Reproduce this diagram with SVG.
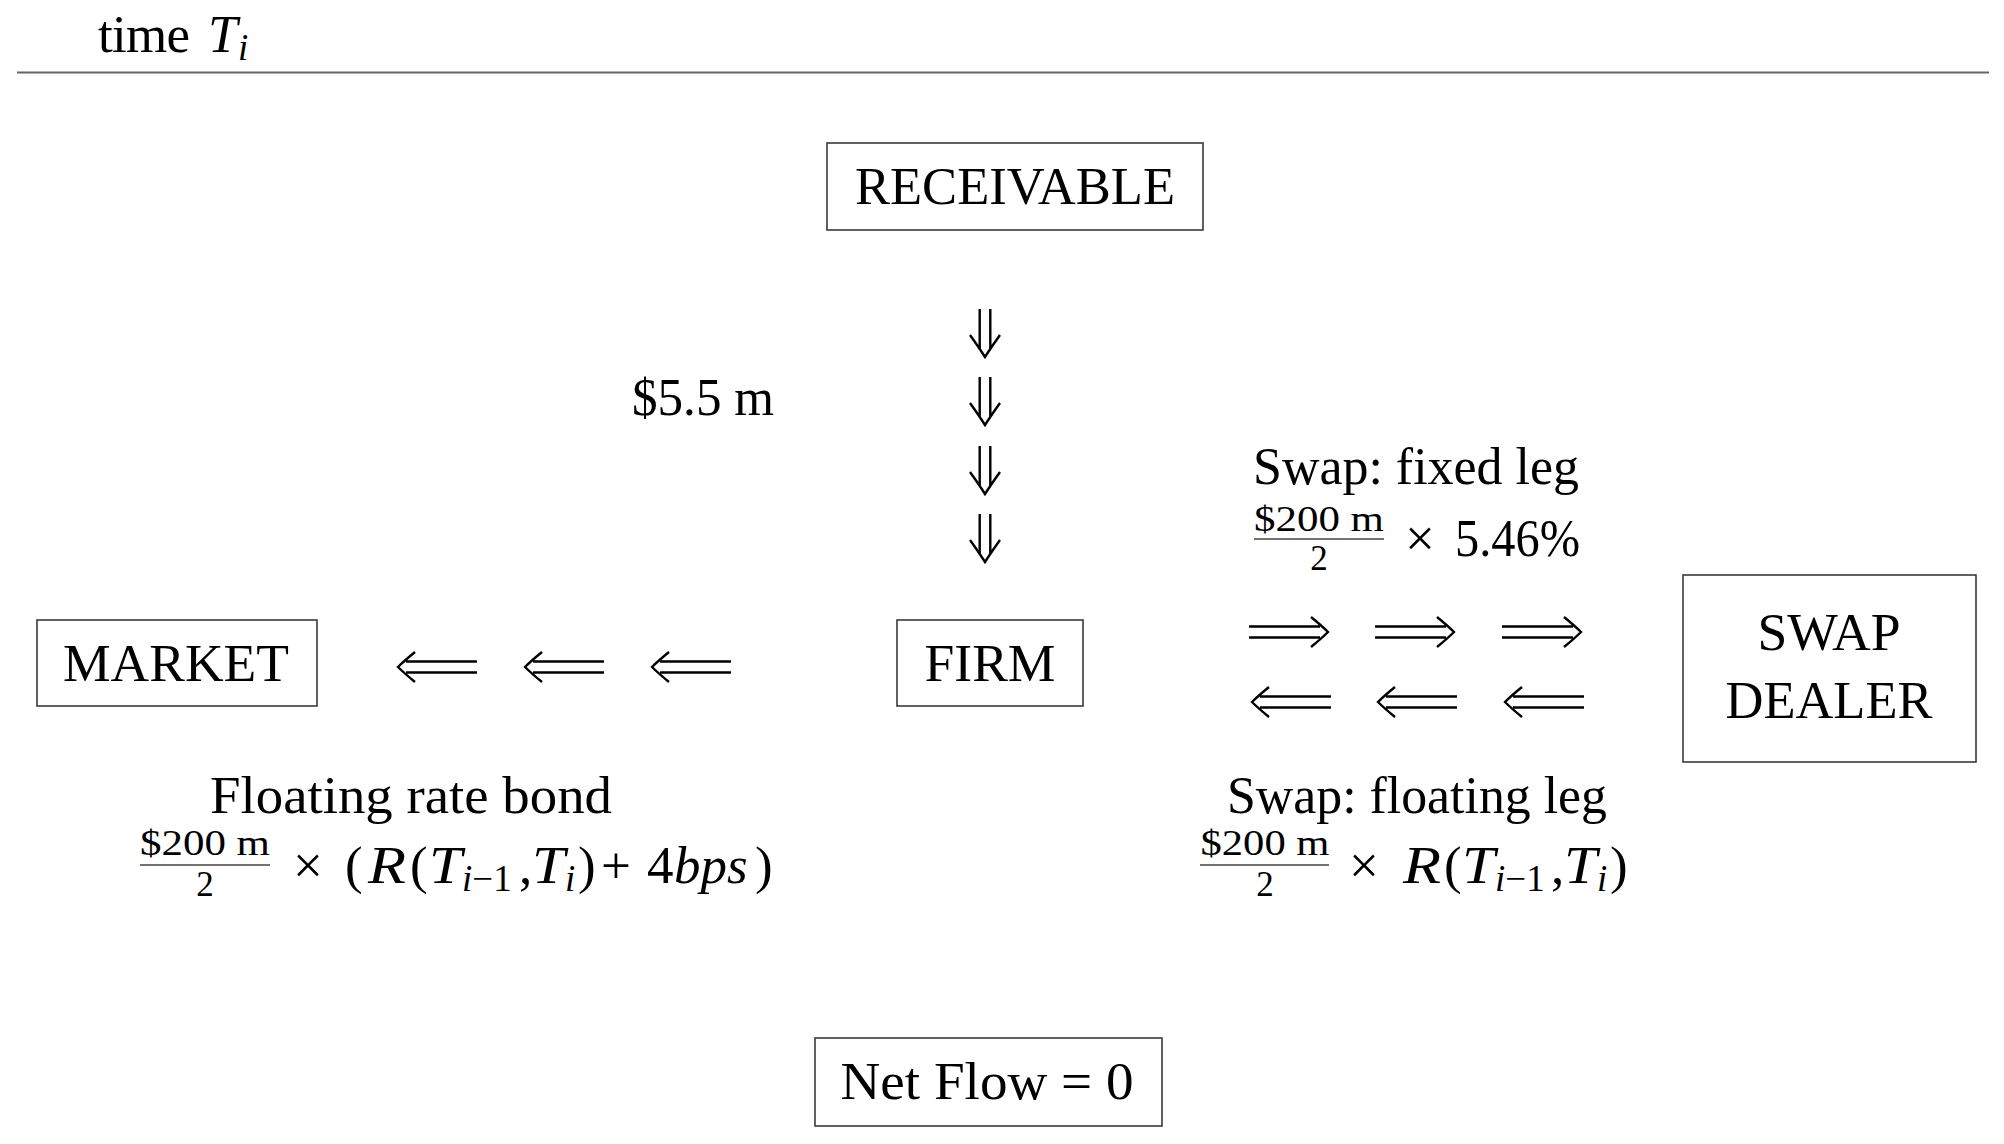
<svg xmlns="http://www.w3.org/2000/svg" xmlns:xlink="http://www.w3.org/1999/xlink" width="2004" height="1144" viewBox="0 0 2004 1144">
<style>
  text { font-family: "Liberation Serif", "Times New Roman", serif; fill: #000; }
  .t { font-size: 53px; }
  .sm { font-size: 35px; }
  .sub { font-size: 37px; }
  .i { font-style: italic; }
  .box { fill: #fff; stroke: #3a3a3a; stroke-width: 1.6; }
  .bar { stroke: #444; stroke-width: 1.5; }
  .arr { fill: none; stroke: #000; stroke-width: 2.4; stroke-linecap: butt; }
</style>
<defs>
  <!-- long double arrow pointing left, tip at 0,0 -->
  <path id="arrL" class="arr" d="M17,-15 Q6,-6 0,0 Q6,6 17,15 M8,-5.5 H79 M8,5.5 H79"/>
  <!-- double arrow pointing down, tip at 0,0 -->
  <path id="arrD" class="arr" d="M-15,-22 Q-5,-8 0,0 Q5,-8 15,-22 M-5.3,-48 V-8 M5.3,-48 V-8"/>
</defs>
<rect width="2004" height="1144" fill="#fff"/>

<g id="header">
  <text class="t" y="52"><tspan x="98" textLength="92">time</tspan><tspan x="208" class="i">T</tspan><tspan x="238" y="60" class="sub i">i</tspan></text>
  <line x1="17" y1="72.5" x2="1989" y2="72.5" stroke="#666" stroke-width="2"/>
</g>

<g id="receivable">
  <rect class="box" x="827" y="143" width="376" height="87"/>
  <text class="t" x="1015" y="204" text-anchor="middle" textLength="320" lengthAdjust="spacingAndGlyphs">RECEIVABLE</text>
</g>

<g id="market">
  <rect class="box" x="37" y="620" width="280" height="86"/>
  <text class="t" x="176" y="681" text-anchor="middle" textLength="226" lengthAdjust="spacingAndGlyphs">MARKET</text>
</g>

<g id="firm">
  <rect class="box" x="897" y="620" width="186" height="86"/>
  <text class="t" x="990" y="681" text-anchor="middle" textLength="131" lengthAdjust="spacingAndGlyphs">FIRM</text>
</g>

<g id="swap-dealer">
  <rect class="box" x="1683" y="575" width="293" height="187"/>
  <text class="t" x="1829" y="650" text-anchor="middle" textLength="143" lengthAdjust="spacingAndGlyphs">SWAP</text>
  <text class="t" x="1829" y="718" text-anchor="middle" textLength="207" lengthAdjust="spacingAndGlyphs">DEALER</text>
</g>

<g id="net-flow">
  <rect class="box" x="815" y="1038" width="347" height="88"/>
  <text class="t" x="987" y="1099" text-anchor="middle" textLength="293" lengthAdjust="spacingAndGlyphs">Net Flow = 0</text>
</g>

<g id="connectors">
  <use xlink:href="#arrD" href="#arrD" x="985" y="357"/>
  <use xlink:href="#arrD" href="#arrD" x="985" y="425"/>
  <use xlink:href="#arrD" href="#arrD" x="985" y="494"/>
  <use xlink:href="#arrD" href="#arrD" x="985" y="562"/>

  <use xlink:href="#arrL" href="#arrL" x="398" y="667"/>
  <use xlink:href="#arrL" href="#arrL" x="525" y="667"/>
  <use xlink:href="#arrL" href="#arrL" x="652" y="667"/>

  <use xlink:href="#arrL" href="#arrL" transform="translate(1328,632) scale(-1,1)"/>
  <use xlink:href="#arrL" href="#arrL" transform="translate(1454,632) scale(-1,1)"/>
  <use xlink:href="#arrL" href="#arrL" transform="translate(1581,632) scale(-1,1)"/>

  <use xlink:href="#arrL" href="#arrL" x="1252" y="702"/>
  <use xlink:href="#arrL" href="#arrL" x="1378" y="702"/>
  <use xlink:href="#arrL" href="#arrL" x="1505" y="702"/>
</g>

<g id="label-receivable-flow">
  <text class="t" x="632" y="415" textLength="142" lengthAdjust="spacingAndGlyphs">$5.5 m</text>
</g>

<g id="label-fixed-leg">
  <text class="t" x="1416" y="484" text-anchor="middle" textLength="326" lengthAdjust="spacingAndGlyphs">Swap: fixed leg</text>
  <text class="sm" x="1319" y="531" text-anchor="middle" textLength="130" lengthAdjust="spacingAndGlyphs">$200 m</text>
  <line class="bar" x1="1254" y1="539" x2="1384" y2="539"/>
  <text class="sm" x="1319" y="570" text-anchor="middle">2</text>
  <text class="t" y="556"><tspan x="1405">×</tspan><tspan x="1455" textLength="125" lengthAdjust="spacingAndGlyphs">5.46%</tspan></text>
</g>

<g id="label-bond">
  <text class="t" x="411" y="813" text-anchor="middle" textLength="402" lengthAdjust="spacingAndGlyphs">Floating rate bond</text>
  <text class="sm" x="205" y="855" text-anchor="middle" textLength="130" lengthAdjust="spacingAndGlyphs">$200 m</text>
  <line class="bar" x1="140" y1="865" x2="270" y2="865"/>
  <text class="sm" x="205" y="896" text-anchor="middle">2</text>
  <text class="t" y="883"><tspan x="293">×</tspan><tspan x="345">(</tspan><tspan x="368" class="i" textLength="38" lengthAdjust="spacingAndGlyphs">R</tspan><tspan x="410">(</tspan><tspan x="429" class="i" textLength="33" lengthAdjust="spacingAndGlyphs">T</tspan><tspan x="462" y="891" class="sub"><tspan class="i">i</tspan>−1</tspan><tspan x="519" y="883">,</tspan><tspan x="532" class="i" textLength="33" lengthAdjust="spacingAndGlyphs">T</tspan><tspan x="565" y="891" class="sub i">i</tspan><tspan x="578" y="883">)</tspan><tspan x="601">+</tspan><tspan x="647">4</tspan><tspan x="674" class="i">bps</tspan><tspan x="755">)</tspan></text>
</g>

<g id="label-floating-leg">
  <text class="t" x="1417" y="813" text-anchor="middle" textLength="380" lengthAdjust="spacingAndGlyphs">Swap: floating leg</text>
  <text class="sm" x="1265" y="855" text-anchor="middle" textLength="129" lengthAdjust="spacingAndGlyphs">$200 m</text>
  <line class="bar" x1="1200" y1="865" x2="1329" y2="865"/>
  <text class="sm" x="1265" y="896" text-anchor="middle">2</text>
  <text class="t" y="883"><tspan x="1349">×</tspan><tspan x="1403" class="i" textLength="38" lengthAdjust="spacingAndGlyphs">R</tspan><tspan x="1444">(</tspan><tspan x="1462" class="i" textLength="33" lengthAdjust="spacingAndGlyphs">T</tspan><tspan x="1495" y="891" class="sub"><tspan class="i">i</tspan>−1</tspan><tspan x="1551" y="883">,</tspan><tspan x="1564" class="i" textLength="33" lengthAdjust="spacingAndGlyphs">T</tspan><tspan x="1597" y="891" class="sub i">i</tspan><tspan x="1610" y="883">)</tspan></text>
</g>
</svg>
